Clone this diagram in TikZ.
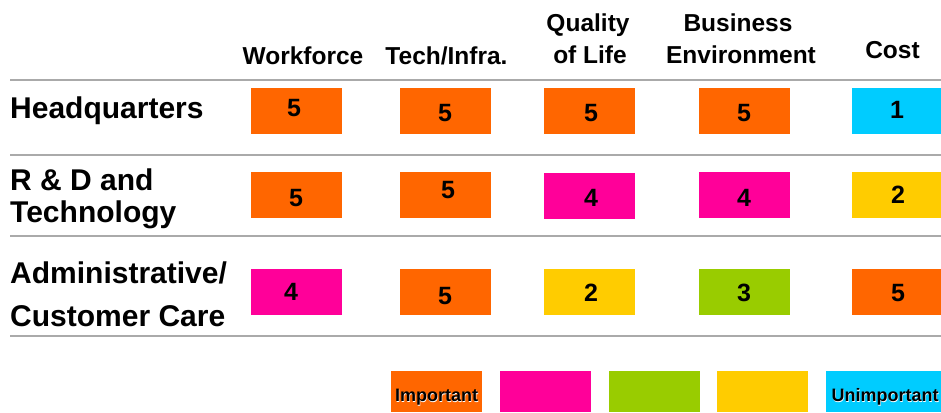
\documentclass[tikz,border=0pt]{standalone}
\usepackage{fontspec}
\setmainfont{Liberation Sans}
\definecolor{cOrange}{HTML}{FF6600}
\definecolor{cPink}{HTML}{FF0099}
\definecolor{cGreen}{HTML}{99CC00}
\definecolor{cYellow}{HTML}{FFCC00}
\definecolor{cCyan}{HTML}{00CCFF}
\definecolor{sepgray}{HTML}{AAAAAA}
\begin{document}
\begin{tikzpicture}[x=1pt,y=-1pt,
  cell/.style={fill=#1,minimum width=91pt,minimum height=46pt,inner sep=0pt,outer sep=0pt},
  num/.style={font=\fontsize{25}{25}\selectfont\bfseries,anchor=base,inner sep=0pt},
  hdr/.style={font=\fontsize{24.5}{24.5}\selectfont\bfseries,anchor=base,inner sep=0pt},
  rowlbl/.style={font=\fontsize{30}{30}\selectfont\bfseries,anchor=base west,inner sep=0pt},
  sepline/.style={draw=sepgray,line width=2pt},
  leg/.style={fill=#1,minimum width=91pt,minimum height=41pt,inner sep=0pt,outer sep=0pt},
  legtxt/.style={font=\fontsize{18}{18}\selectfont\bfseries,anchor=base,inner sep=0pt}]
\useasboundingbox (0,0) rectangle (941,412);

% headers
\node[hdr] (hWork) at (303,64) {Workforce};
\node[hdr] (hTech) at (446.5,64) {Tech/Infra.};
\node[hdr] (hQual1) at (588,31.7) {Quality};
\node[hdr] (hQual2) at (590,63.3) {of Life};
\node[hdr] (hBus1) at (738,31.7) {Business};
\node[hdr] (hBus2) at (741,63.3) {Environment};
\node[hdr] (hCost) at (892.5,58.3) {Cost};

% separators
\coordinate (s1a) at (10,79.5); \coordinate (s1b) at (941,79.5);
\coordinate (s2a) at (10,155);  \coordinate (s2b) at (941,155);
\coordinate (s3a) at (10,236);  \coordinate (s3b) at (941,236);
\coordinate (s4a) at (10,336);  \coordinate (s4b) at (941,336);
\draw[sepline] (s1a) -- (s1b);
\draw[sepline] (s2a) -- (s2b);
\draw[sepline] (s3a) -- (s3b);
\draw[sepline] (s4a) -- (s4b);

% row labels
\node[rowlbl] (rHQ) at (10,118.3) {Headquarters};
\node[rowlbl] (rRD1) at (10,190) {R \& D and};
\node[rowlbl] (rRD2) at (10,222) {Technology};
\node[rowlbl] (rAd1) at (10,283.3) {Administrative/};
\node[rowlbl] (rAd2) at (10,326.7) {Customer Care};

% row 1
\node[cell=cOrange] (b11) at (296.5,110.5) {};
\node[cell=cOrange] (b12) at (445,110.5) {};
\node[cell=cOrange] (b13) at (589,110.5) {};
\node[cell=cOrange] (b14) at (744,110.5) {};
\node[cell=cCyan]   (b15) at (897.5,110.5) {};
\node[num] (n11) at (294,116.6) {5};
\node[num] (n12) at (445,121.9) {5};
\node[num] (n13) at (591,121.9) {5};
\node[num] (n14) at (744,121.9) {5};
\node[num] (n15) at (897,118.9) {1};

% row 2
\node[cell=cOrange] (b21) at (296.5,194.5) {};
\node[cell=cOrange] (b22) at (445,194.5) {};
\node[cell=cPink]   (b23) at (589,195.5) {};
\node[cell=cPink]   (b24) at (744,194.5) {};
\node[cell=cYellow] (b25) at (897.5,194.5) {};
\node[num] (n21) at (296,206.9) {5};
\node[num] (n22) at (448,198.9) {5};
\node[num] (n23) at (591,206.9) {4};
\node[num] (n24) at (744,206.9) {4};
\node[num] (n25) at (898,203.9) {2};

% row 3
\node[cell=cPink]   (b31) at (296.5,292) {};
\node[cell=cOrange] (b32) at (445,292) {};
\node[cell=cYellow] (b33) at (589,292) {};
\node[cell=cGreen]  (b34) at (744,292) {};
\node[cell=cOrange] (b35) at (897.5,292) {};
\node[num] (n31) at (291,300.9) {4};
\node[num] (n32) at (445,304.9) {5};
\node[num] (n33) at (591,301.9) {2};
\node[num] (n34) at (744,301.9) {3};
\node[num] (n35) at (898,301.9) {5};

% legend
\node[leg=cOrange] (l1) at (436.5,391.5) {};
\node[leg=cPink]   (l2) at (545.5,391.5) {};
\node[leg=cGreen]  (l3) at (654.5,391.5) {};
\node[leg=cYellow] (l4) at (762.5,391.5) {};
\node[leg=cCyan,minimum width=117pt] (l5) at (884.5,391.5) {};
\node[legtxt,text=white] (t1s) at (437.2,402.4) {Important};
\node[legtxt] (t1) at (436.5,401.7) {Important};
\node[legtxt,text=white] (t5s) at (885.7,402.4) {Unimportant};
\node[legtxt] (t5) at (885,401.7) {Unimportant};
\end{tikzpicture}
\end{document}
